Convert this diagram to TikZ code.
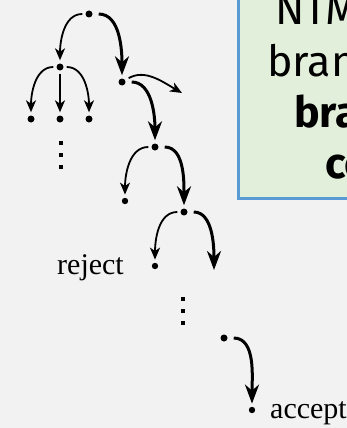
\documentclass[tikz,border=0pt]{standalone}
\usepackage{fontspec}
\setmainfont{Liberation Serif}
\newfontfamily\notefont{Fira Sans}
\usetikzlibrary{arrows.meta}

\definecolor{bg}{HTML}{F2F2F2}
\definecolor{notefill}{HTML}{E2EFDA}
\definecolor{noteline}{HTML}{5B9BD5}

\begin{document}
\begin{tikzpicture}[x=1pt,y=1pt,
  dot/.style={circle,fill=black,inner sep=0pt,minimum size=7pt},
  thinarr/.style={line width=1.8pt,-{Stealth[length=12pt,width=10pt,inset=3.5pt]},shorten <=3pt,shorten >=3pt},
  thickarr/.style={line width=3pt,-{Stealth[length=19pt,width=14pt,inset=6pt]},shorten <=6pt,shorten >=3pt},
  lbl/.style={font=\fontsize{30}{30}\selectfont,inner sep=0pt},
  noteline/.style={font=\notefont\fontsize{43}{43}\selectfont,inner sep=0pt,anchor=base west},
  vdot/.style={fill=black,minimum size=3.6pt,inner sep=0pt}
]
\useasboundingbox (0,0) rectangle (347,-428);
\fill[bg] (0,0) rectangle (347,-428);

% note box, running off the top and right edges
\begin{scope}
\clip (0,0) rectangle (347,-428);
\node[draw=noteline,fill=notefill,line width=3pt,anchor=south west,
      minimum width=160pt,minimum height=230pt,inner sep=0pt] (note) at (237,-200) {};
\node[noteline] (l1) at (275,-25) {NTM accepts if};
\node[noteline] (l2) at (267,-76) {branch accepts};
\node[noteline] (l3) at (294,-127) {\bfseries branch};
\node[noteline] (l4) at (325,-178) {\bfseries computation};
\end{scope}

% tree nodes
\node[dot] (A) at (89,-14) {};
\node[dot] (B) at (60,-67) {};
\node[dot] (B1) at (31,-119) {};
\node[dot] (B2) at (60,-119) {};
\node[dot] (B3) at (89,-119) {};
\node[dot] (C) at (122,-82) {};
\coordinate (Cx) at (182,-93);
\node[dot] (D) at (155,-147) {};
\node[dot,minimum size=6.4pt] (E) at (125,-201) {};
\node[dot] (F) at (184,-212) {};
\node[dot,minimum size=6.4pt] (G) at (155,-266) {};
\coordinate (Fx) at (214,-270);
\node[dot] (H) at (224,-338) {};
\node[dot,minimum size=6.4pt] (I) at (252,-410) {};

% vertical ellipses
\foreach \y [count=\i] in {-143,-155,-167} \node[vdot] (va\i) at (61,\y) {};
\foreach \y [count=\i] in {-299,-311,-323} \node[vdot] (vb\i) at (183,\y) {};

% labels
\node[lbl,anchor=base east] (rej) at (124,-274) {reject};
\node[lbl,anchor=base west] (acc) at (270,-418) {accept};

% branches
\draw[thinarr] (A) to[out=180,in=90] (B);
\draw[thickarr] (A) to[out=0,in=90] (C);
\draw[thinarr] (B) to[out=180,in=90] (B1);
\draw[thinarr] (B) -- (B2);
\draw[thinarr] (B) to[out=0,in=90] (B3);
\draw[thinarr,shorten >=0pt,shorten <=4pt] (C) to[out=30,in=150] (Cx);
\draw[thickarr] (C) to[out=0,in=90] (D);
\draw[thinarr] (D) to[out=180,in=90] (E);
\draw[thickarr] (D) to[out=0,in=90] (F);
\draw[thinarr] (F) to[out=180,in=90] (G);
\draw[thickarr,shorten >=0pt] (F) to[out=0,in=90] (Fx);
\draw[thickarr] (H) to[out=0,in=90] (I);
\end{tikzpicture}
\end{document}
